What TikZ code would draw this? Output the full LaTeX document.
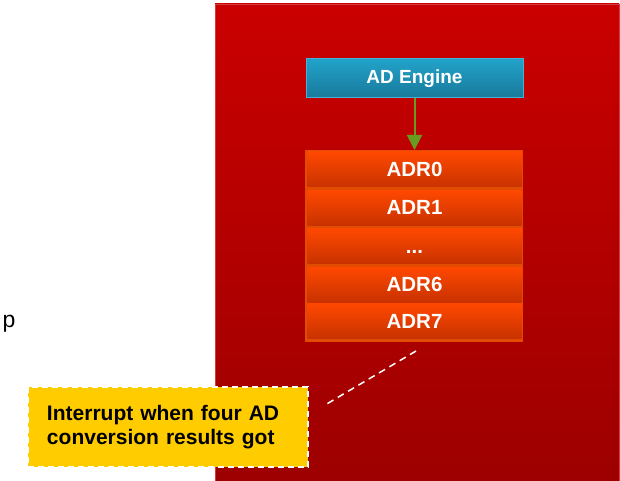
\documentclass[tikz,border=0pt]{standalone}
\usepackage{fontspec}
\setmainfont{Liberation Sans}
\usetikzlibrary{arrows.meta,positioning}
\definecolor{redtop}{RGB}{202,0,0}
\definecolor{redbot}{RGB}{156,0,0}
\definecolor{rededge}{RGB}{215,60,60}
\definecolor{orwrap}{RGB}{226,76,0}
\definecolor{ortop}{RGB}{255,72,0}
\definecolor{orbot}{RGB}{200,50,0}
\definecolor{bltop}{RGB}{34,162,202}
\definecolor{blbot}{RGB}{24,122,154}
\definecolor{bledge}{RGB}{70,176,214}
\definecolor{arrgreen}{RGB}{104,156,30}
\definecolor{yel}{RGB}{255,204,0}
\tikzset{
  rowbox/.style={minimum width=214bp, minimum height=35bp, inner sep=0pt,
    text height=14bp, text depth=0pt,
    top color=ortop, bottom color=orbot, text=white,
    font=\fontsize{20.5bp}{24bp}\selectfont\bfseries},
  enginebox/.style={minimum width=217bp, minimum height=39bp, inner sep=0pt,
    top color=bltop, bottom color=blbot, draw=bledge, line width=1bp, text=white,
    font=\fontsize{19bp}{24bp}\selectfont\bfseries},
  notebox/.style={fill=yel, draw=white, line width=1.5bp, dash pattern=on 6bp off 4bp,
    minimum width=280bp, minimum height=80bp, inner xsep=19bp, inner ysep=0pt,
    align=left, text width=242bp, font=\fontsize{21bp}{24.5bp}\selectfont\bfseries},
}
\begin{document}
\begin{tikzpicture}[x=1bp,y=-1bp]
\useasboundingbox (0,0) rectangle (620,481);
% big red panel
\shade[top color=redtop, bottom color=redbot] (215,4) rectangle (619,490);
\draw[rededge, line width=0.8bp] (215,490) -- (215,4) -- (619,4) -- (619,490);
% orange wrapper
\fill[orwrap] (305,150) rectangle (523,342);
% rows
\node[rowbox] (r0) at (414.5,169.5) {ADR0};
\node[rowbox] (r1) at (414.5,208) {ADR1};
\node[rowbox] (r2) at (414.5,246) {...};
\node[rowbox] (r6) at (414.5,284.5) {ADR6};
\node[rowbox] (r7) at (414.5,321) {ADR7};
\coordinate (wraptop) at (414.5,150);
% engine
\node[enginebox] (eng) at (414.5,78.5) {AD Engine};
\draw[arrgreen, line width=2bp, -{Triangle[width=15bp,length=15bp]}] (eng.south) -- (wraptop);
% left cut-off text
\node[anchor=base east, inner sep=0pt, font=\fontsize{23bp}{26bp}\selectfont] (ptext) at (15.5,327) {p};
% note box
\node[notebox] (note) at (168,427) {Interrupt when four AD\\conversion results got};
% dashed callout line
\coordinate (d1) at (416,351);
\coordinate (d2) at (325,405);
\draw[white, line width=1.5bp, dash pattern=on 7bp off 5bp] (d1) -- (d2);
\end{tikzpicture}
\end{document}
